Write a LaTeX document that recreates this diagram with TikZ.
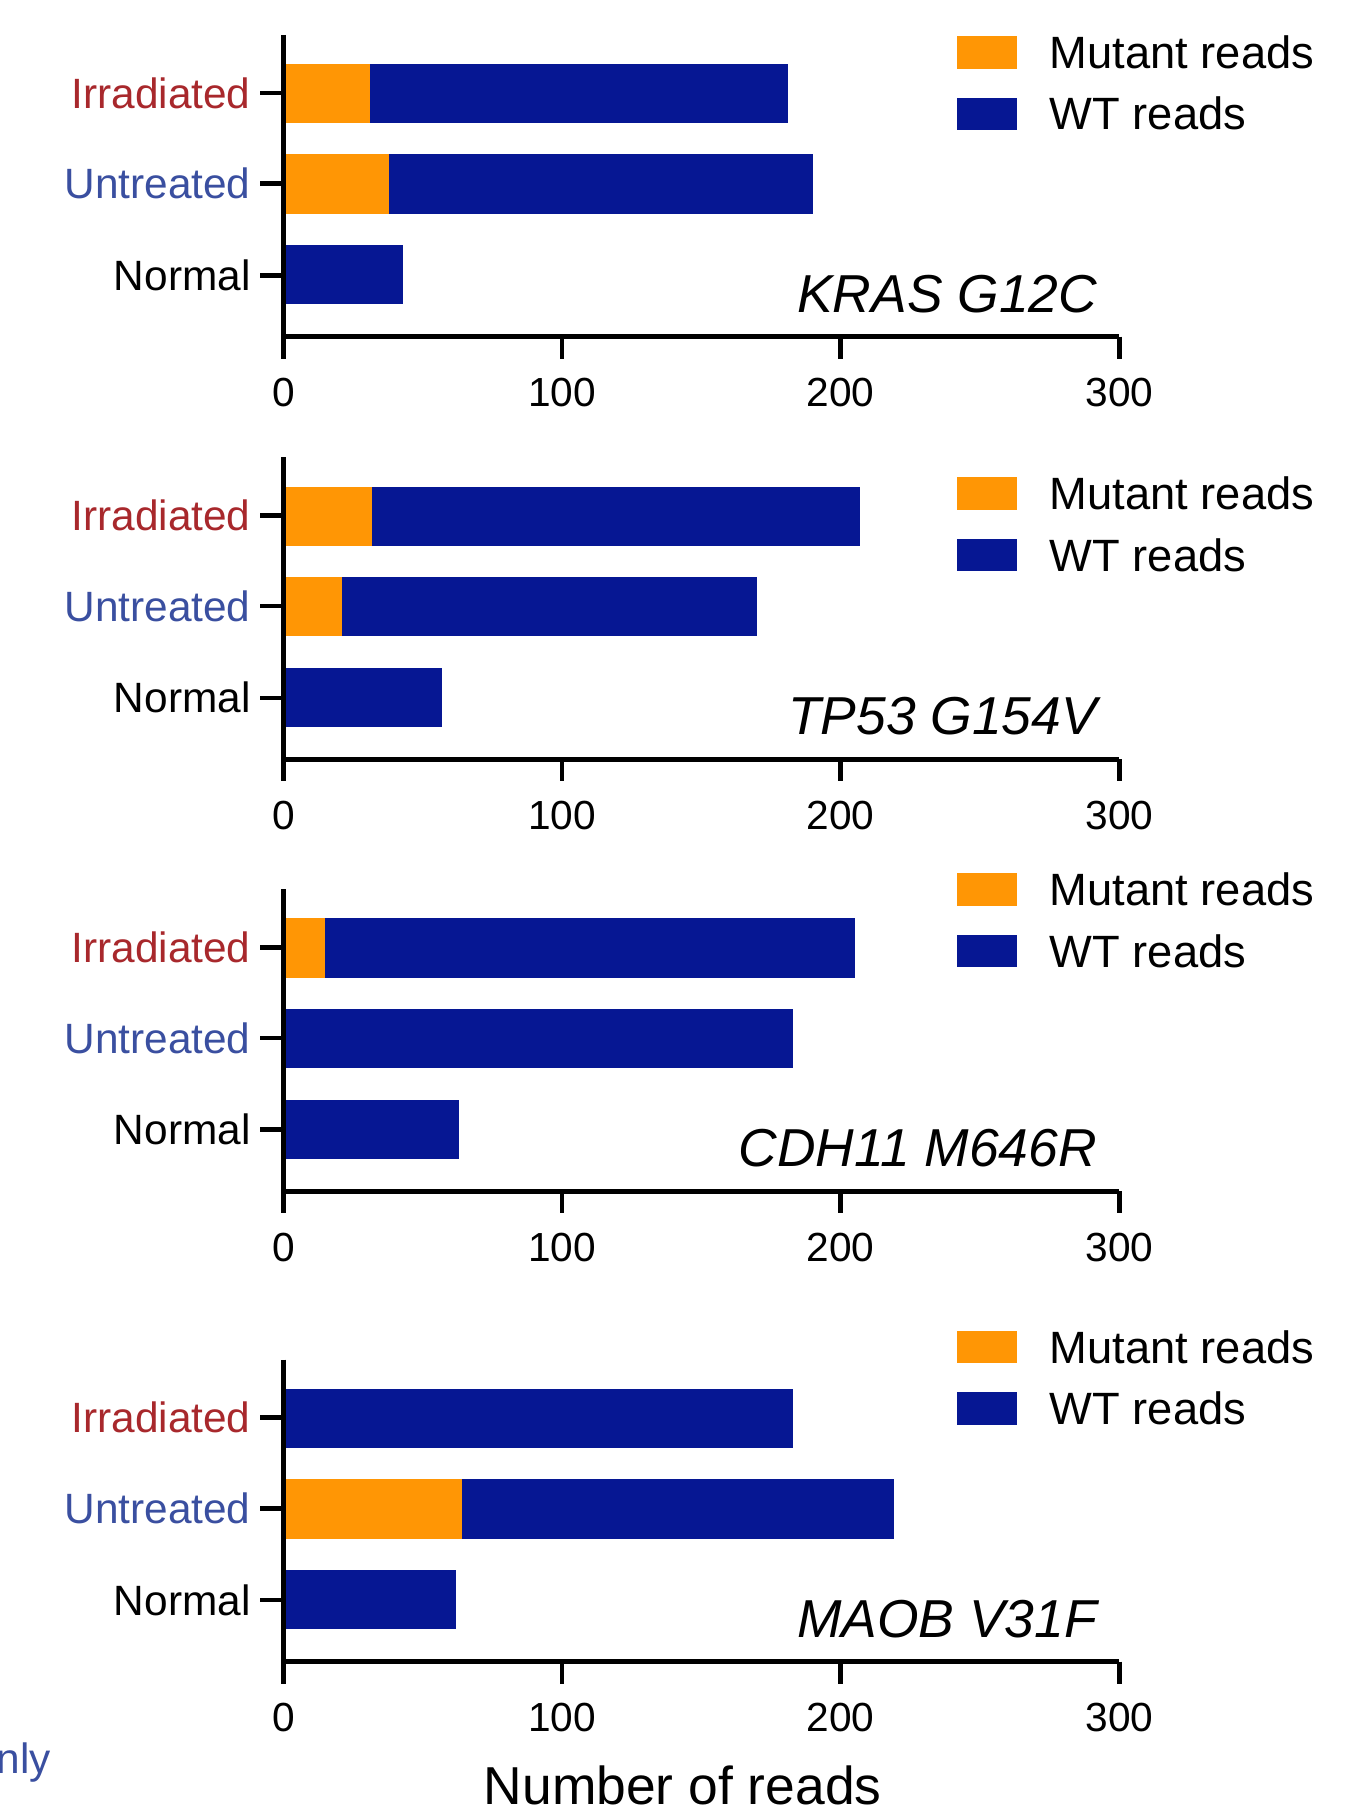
\documentclass[tikz,border=0pt]{standalone}
\usepackage{fontspec}
\setmainfont{Liberation Sans}
\definecolor{mut}{HTML}{FF9605}
\definecolor{wt}{HTML}{061793}
\definecolor{irr}{HTML}{A8282C}
\definecolor{unt}{HTML}{3A4FA0}
\tikzset{bar/.style={draw=none},lab/.style={anchor=east,font=\fontsize{36.5}{36.5}\selectfont,inner sep=0pt},
tick/.style={font=\fontsize{35}{35}\selectfont,inner sep=0pt},
leg/.style={anchor=west,font=\fontsize{39}{39}\selectfont,inner sep=0pt},
gene/.style={anchor=east,font=\fontsize{46}{46}\selectfont\itshape,inner sep=0pt},
ax/.style={line width=4pt}}
% #1 name, #2 offset, #3 irr mut, #4 irr tot, #5 unt mut, #6 unt tot, #7 normal, #8 gene, #9 legend offset
\newcommand{\mypanel}[9]{
\begin{scope}[yshift=-#2pt]
\fill[wt] (244,55) rectangle (244+2.4*#4,106);
\fill[mut] (244,55) rectangle (244+2.4*#3,106);
\fill[wt] (244,133) rectangle (244+2.4*#6,184);
\fill[mut] (244,133) rectangle (244+2.4*#5,184);
\fill[wt] (244,211) rectangle (244+2.4*#7,262);
\draw[ax] (244,30) -- (244,290) -- (964,290);
\foreach \v/\t in {0/0,100/100,200/200,300/300}{
 \draw[ax] (244+2.4*\v,290) -- (244+2.4*\v,309);
 \node[tick] (#1t\v) at (244+2.4*\v,338) {\t};}
\foreach \yy in {80,158,237} \draw[ax] (224,\yy) -- (244,\yy);
\node[lab,text=irr] (#1a) at (216,80) {Irradiated};
\node[lab,text=unt] (#1b) at (216,158) {Untreated};
\node[lab] (#1c) at (216,237) {Normal};
\node[gene] (#1g) at (945,253) {#8};
\fill[mut] (824,#9+31) rectangle (876,#9+59);
\fill[wt] (824,#9+84) rectangle (876,#9+112);
\node[leg] (#1m) at (904,#9+45) {Mutant reads};
\node[leg] (#1w) at (904,#9+98) {WT reads};
\end{scope}}
\begin{document}
\begin{tikzpicture}[x=1pt,y=-1pt]
\useasboundingbox (0,0) rectangle (1160,1564);
\mypanel{p}{0}{31}{181}{38}{190}{43}{KRAS G12C}{0}
\mypanel{q}{364}{32}{207}{21}{170}{57}{TP53 G154V}{16}
\mypanel{r}{736}{15}{205}{0}{183}{63}{CDH11 M646R}{-15}
\mypanel{s}{1141}{0}{183}{64}{219}{62}{MAOB V31F}{-26}
\node[font=\fontsize{46}{46}\selectfont,inner sep=0pt] (xt) at (588,1538) {Number of reads};
\node[font=\fontsize{36.5}{36.5}\selectfont,inner sep=0pt,text=unt,anchor=east] (nly) at (44,1518) {nly};
\end{tikzpicture}
\end{document}
